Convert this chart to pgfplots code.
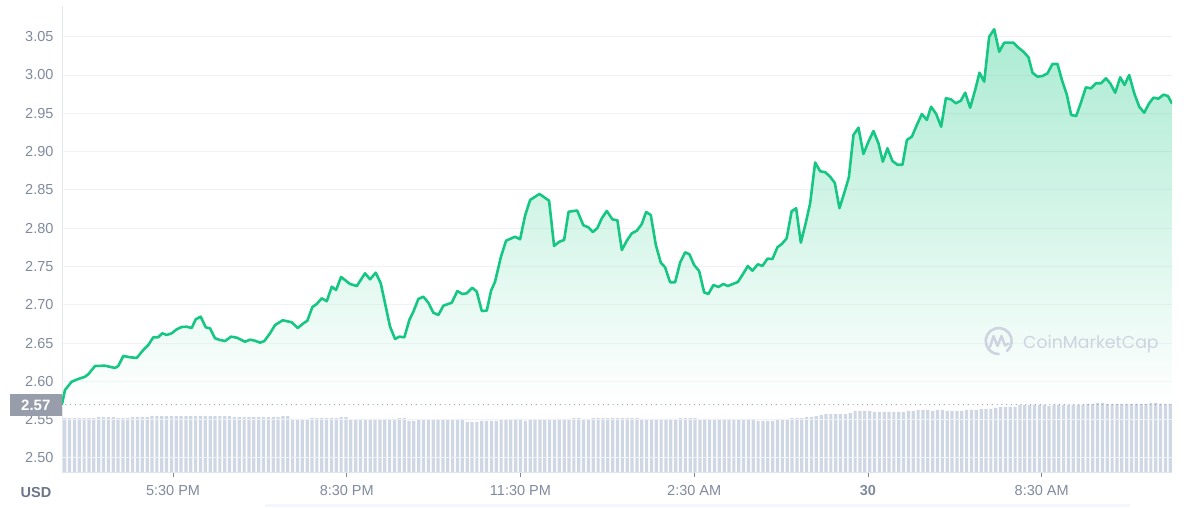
\documentclass[border=0pt]{standalone}
\usepackage{fontspec}
\setmainfont{Liberation Sans}
\newfontfamily\wmfont{Poppins}
\usepackage{pgfplots}
\usepackage{pgfplotstable}
\pgfplotsset{compat=1.18}
\definecolor{cmcgreen}{HTML}{16C784}
\definecolor{gridc}{HTML}{EFF2F5}
\definecolor{barc}{HTML}{CFD6E4}
\definecolor{labc}{HTML}{808A9D}
\definecolor{usdc}{HTML}{6B7588}
\definecolor{boxc}{HTML}{979DAA}
\definecolor{wmc}{HTML}{CDD3DF}
\definecolor{axc}{HTML}{E3E7EE}
\definecolor{dotc}{HTML}{9AA1AE}
\definecolor{bandc}{HTML}{F3F6FC}

% price (USD) against time in hours (24 = midnight)
\pgfplotstableread{
h p
15.583 2.5705
15.635 2.5888
15.750 2.5996
15.864 2.6031
15.980 2.6061
16.037 2.6093
16.153 2.6201
16.326 2.6205
16.498 2.6175
16.555 2.6201
16.642 2.6332
16.757 2.6315
16.873 2.6306
16.987 2.6410
17.073 2.6475
17.160 2.6576
17.246 2.6576
17.315 2.6628
17.391 2.6606
17.478 2.6628
17.564 2.6680
17.650 2.6710
17.737 2.6714
17.823 2.6697
17.892 2.6811
17.978 2.6845
18.065 2.6706
18.139 2.6693
18.225 2.6563
18.312 2.6540
18.398 2.6527
18.502 2.6584
18.600 2.6571
18.744 2.6518
18.830 2.6544
18.916 2.6531
19.003 2.6505
19.077 2.6527
19.175 2.6628
19.262 2.6736
19.395 2.6798
19.550 2.6772
19.654 2.6697
19.750 2.6758
19.820 2.6792
19.906 2.6971
19.982 2.7010
20.068 2.7085
20.155 2.7046
20.241 2.7236
20.315 2.7193
20.402 2.7363
20.557 2.7272
20.673 2.7245
20.816 2.7411
20.902 2.7333
21.001 2.7419
21.087 2.7281
21.161 2.7020
21.248 2.6714
21.334 2.6554
21.408 2.6584
21.495 2.6576
21.581 2.6802
21.650 2.6910
21.737 2.7076
21.823 2.7106
21.909 2.7027
21.996 2.6897
22.082 2.6867
22.168 2.6988
22.313 2.7027
22.410 2.7180
22.496 2.7141
22.572 2.7150
22.669 2.7223
22.745 2.7171
22.832 2.6919
22.918 2.6923
22.992 2.7184
23.061 2.7302
23.160 2.7620
23.251 2.7837
23.407 2.7889
23.493 2.7855
23.579 2.8163
23.666 2.8368
23.826 2.8447
23.994 2.8359
24.080 2.7768
24.172 2.7824
24.253 2.7846
24.331 2.8215
24.478 2.8231
24.586 2.8038
24.673 2.8012
24.749 2.7950
24.828 2.8003
24.904 2.8129
24.990 2.8225
25.087 2.8116
25.173 2.8103
25.250 2.7715
25.336 2.7837
25.422 2.7933
25.509 2.7967
25.595 2.8055
25.669 2.8212
25.750 2.8172
25.837 2.7781
25.923 2.7550
25.997 2.7490
26.084 2.7294
26.170 2.7294
26.256 2.7550
26.343 2.7685
26.417 2.7659
26.498 2.7520
26.585 2.7441
26.671 2.7163
26.745 2.7141
26.832 2.7259
26.918 2.7232
27.004 2.7272
27.080 2.7245
27.167 2.7272
27.253 2.7298
27.339 2.7398
27.426 2.7507
27.505 2.7445
27.598 2.7529
27.678 2.7507
27.764 2.7602
27.851 2.7598
27.937 2.7751
28.013 2.7794
28.096 2.7868
28.182 2.8221
28.260 2.8260
28.341 2.7811
28.427 2.8072
28.502 2.8325
28.588 2.8858
28.674 2.8744
28.761 2.8731
28.847 2.8672
28.928 2.8590
29.008 2.8261
29.089 2.8456
29.170 2.8662
29.250 2.9217
29.336 2.9312
29.422 2.8969
29.508 2.9129
29.595 2.9269
29.681 2.9108
29.757 2.8868
29.837 2.9043
29.923 2.8877
30.009 2.8829
30.096 2.8829
30.172 2.9151
30.258 2.9195
30.344 2.9347
30.431 2.9491
30.517 2.9413
30.591 2.9586
30.678 2.9491
30.764 2.9325
30.845 2.9696
30.932 2.9683
31.018 2.9631
31.104 2.9665
31.179 2.9769
31.265 2.9573
31.351 2.9804
31.426 3.0030
31.507 2.9913
31.593 3.0500
31.680 3.0597
31.766 3.0304
31.852 3.0422
32.013 3.0422
32.099 3.0356
32.186 3.0304
32.272 3.0231
32.341 3.0030
32.427 2.9978
32.514 2.9987
32.600 3.0022
32.686 3.0144
32.773 3.0144
32.849 2.9935
32.935 2.9739
33.009 2.9478
33.096 2.9465
33.177 2.9638
33.263 2.9839
33.350 2.9826
33.436 2.9892
33.522 2.9892
33.609 2.9957
33.683 2.9892
33.769 2.9769
33.856 2.9970
33.930 2.9870
34.011 3.0000
34.098 2.9761
34.184 2.9586
34.270 2.9508
34.356 2.9631
34.431 2.9704
34.517 2.9691
34.603 2.9743
34.679 2.9726
34.748 2.9631
}\price

% volume bars, one per interval, heights drawn on the price scale
\pgfplotstableread[row sep=\\]{
v\\
2.5522\\ 2.5522\\ 2.5522\\ 2.5522\\ 2.5522\\ 2.5522\\ 2.5522\\ 2.5535\\ 2.5535\\ 2.5535\\
2.5535\\ 2.5522\\ 2.5522\\ 2.5522\\ 2.5535\\ 2.5535\\ 2.5535\\ 2.5535\\ 2.5548\\ 2.5548\\
2.5548\\ 2.5548\\ 2.5548\\ 2.5548\\ 2.5548\\ 2.5548\\ 2.5548\\ 2.5548\\ 2.5548\\ 2.5548\\
2.5548\\ 2.5548\\ 2.5548\\ 2.5548\\ 2.5548\\ 2.5535\\ 2.5535\\ 2.5535\\ 2.5535\\ 2.5535\\
2.5535\\ 2.5535\\ 2.5535\\ 2.5535\\ 2.5535\\ 2.5548\\ 2.5548\\ 2.5509\\ 2.5509\\ 2.5509\\
2.5509\\ 2.5522\\ 2.5522\\ 2.5522\\ 2.5522\\ 2.5522\\ 2.5522\\ 2.5535\\ 2.5535\\ 2.5496\\
2.5496\\ 2.5496\\ 2.5509\\ 2.5509\\ 2.5509\\ 2.5509\\ 2.5509\\ 2.5509\\ 2.5509\\ 2.5522\\
2.5522\\ 2.5483\\ 2.5483\\ 2.5496\\ 2.5496\\ 2.5496\\ 2.5496\\ 2.5496\\ 2.5496\\ 2.5496\\
2.5496\\ 2.5509\\ 2.5509\\ 2.5470\\ 2.5470\\ 2.5470\\ 2.5483\\ 2.5483\\ 2.5483\\ 2.5483\\
2.5496\\ 2.5496\\ 2.5496\\ 2.5509\\ 2.5509\\ 2.5483\\ 2.5496\\ 2.5496\\ 2.5496\\ 2.5496\\
2.5509\\ 2.5509\\ 2.5509\\ 2.5509\\ 2.5509\\ 2.5522\\ 2.5522\\ 2.5509\\ 2.5509\\ 2.5522\\
2.5522\\ 2.5522\\ 2.5522\\ 2.5522\\ 2.5522\\ 2.5522\\ 2.5522\\ 2.5522\\ 2.5522\\ 2.5509\\
2.5509\\ 2.5509\\ 2.5509\\ 2.5509\\ 2.5509\\ 2.5509\\ 2.5509\\ 2.5522\\ 2.5522\\ 2.5522\\
2.5522\\ 2.5509\\ 2.5509\\ 2.5509\\ 2.5509\\ 2.5509\\ 2.5509\\ 2.5509\\ 2.5509\\ 2.5496\\
2.5496\\ 2.5509\\ 2.5509\\ 2.5483\\ 2.5483\\ 2.5483\\ 2.5483\\ 2.5509\\ 2.5509\\ 2.5509\\
2.5522\\ 2.5522\\ 2.5522\\ 2.5535\\ 2.5535\\ 2.5548\\ 2.5561\\ 2.5574\\ 2.5574\\ 2.5574\\
2.5574\\ 2.5574\\ 2.5587\\ 2.5614\\ 2.5614\\ 2.5614\\ 2.5614\\ 2.5601\\ 2.5601\\ 2.5601\\
2.5601\\ 2.5601\\ 2.5601\\ 2.5601\\ 2.5614\\ 2.5614\\ 2.5627\\ 2.5627\\ 2.5627\\ 2.5614\\
2.5627\\ 2.5627\\ 2.5614\\ 2.5614\\ 2.5614\\ 2.5614\\ 2.5627\\ 2.5627\\ 2.5627\\ 2.5640\\
2.5640\\ 2.5640\\ 2.5653\\ 2.5666\\ 2.5666\\ 2.5666\\ 2.5666\\ 2.5692\\ 2.5692\\ 2.5692\\
2.5692\\ 2.5692\\ 2.5692\\ 2.5679\\ 2.5692\\ 2.5692\\ 2.5692\\ 2.5692\\ 2.5692\\ 2.5692\\
2.5692\\ 2.5705\\ 2.5705\\ 2.5718\\ 2.5718\\ 2.5705\\ 2.5705\\ 2.5705\\ 2.5705\\ 2.5705\\
2.5705\\ 2.5705\\ 2.5705\\ 2.5705\\ 2.5718\\ 2.5718\\ 2.5705\\ 2.5705\\ 2.5705\\
}\vol

\begin{document}
\begin{tikzpicture}
\useasboundingbox (0,0) rectangle (1187pt,507pt);
\fill[bandc] (265pt,0pt) rectangle (1130pt,3pt);
\begin{axis}[
  at={(62pt,35pt)}, anchor=south west,
  scale only axis, width=1110pt, height=466pt,
  xmin=15.583, xmax=34.75, ymin=2.4817, ymax=3.0901,
  axis x line*=bottom, axis y line*=left,
  axis line style={draw=axc, line width=1pt},
  xtick={17.5,20.5,23.5,26.5,29.5,32.5},
  xticklabels={5:30 PM,8:30 PM,11:30 PM,2:30 AM,\textbf{30},8:30 AM},
  ytick={2.50,2.55,2.60,2.65,2.70,2.75,2.80,2.85,2.90,2.95,3.00,3.05},
  ymajorgrids, grid style={draw=gridc, line width=1pt},
  tick align=outside, major tick length=5pt,
  xtick style={draw=labc, line width=0.8pt},
  ytick style={draw=none},
  tick label style={font=\fontsize{14.5}{16}\selectfont, text=labc},
  xticklabel style={yshift=-4.5pt},
  yticklabel style={/pgf/number format/.cd, fixed, fixed zerofill, precision=2},
  /pgf/number format/assume math mode=true,
  clip mode=individual,
]
\addplot[draw=none, top color=cmcgreen, bottom color=white, fill opacity=0.36]
  table[x=h, y=p]{\price} -- (axis cs:34.748,2.57) -- (axis cs:15.583,2.57) -- cycle;
\addplot[ybar, bar width=3.2pt, bar shift=0pt, fill=barc, draw=none]
  table[x expr=15.630+\coordindex*0.08373, y=v]{\vol};
\draw[gridc, line width=1pt] (axis cs:15.583,2.50) -- (axis cs:34.75,2.50);
\draw[gridc, line width=1pt] (axis cs:15.583,2.55) -- (axis cs:34.75,2.55);
\addplot[draw=dotc, line width=1.3pt, line cap=round, dash pattern=on 0pt off 4.8pt]
  coordinates {(15.65,2.5697) (34.75,2.5697)};
\addplot[cmcgreen, line width=2.6pt, line join=round, line cap=round]
  table[x=h, y=p]{\price};
\node[fill=boxc, text=white, anchor=east, minimum width=52pt, minimum height=22.5pt,
  inner sep=0pt, font=\fontsize{15}{16}\selectfont\bfseries]
  at (axis cs:15.583,2.5692) {2.57};
\end{axis}
\node[anchor=base, inner sep=0pt, text=usdc, font=\fontsize{14.5}{16}\selectfont\bfseries]
  at (36pt,10pt) {USD};
% watermark
\begin{scope}[wmc]
\draw[line width=2.6pt, line cap=round] (998.7pt,166pt) ++(-50:13pt)
  arc[start angle=-50, end angle=270, radius=13pt];
\draw[line width=2.4pt, line cap=round, line join=round]
  (990pt,160pt) -- (993.5pt,171pt) -- (997.5pt,161pt) -- (1001.5pt,171pt)
  -- (1005pt,161.5pt) -- (1008.5pt,163.5pt);
\node[anchor=base west, inner sep=0pt, text=wmc, font=\wmfont\fontsize{17.3}{19}\selectfont]
  at (1023pt,158.7pt) {CoinMarketCap};
\end{scope}
\end{tikzpicture}
\end{document}
